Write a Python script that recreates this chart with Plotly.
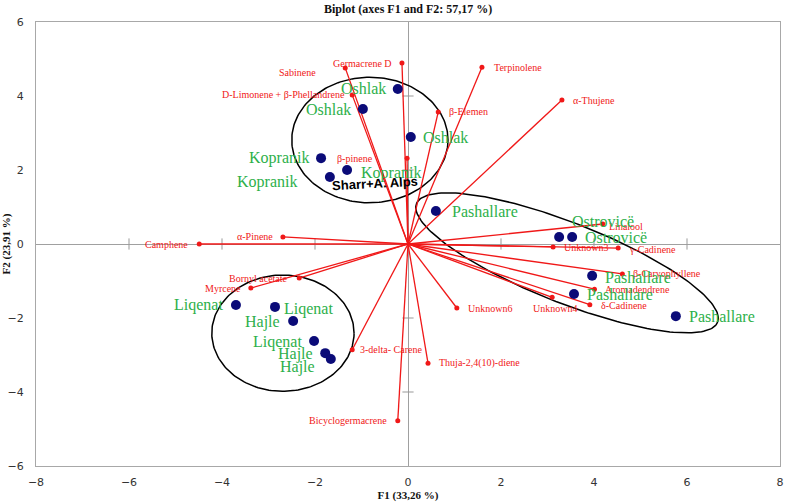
import numpy as np
import plotly.graph_objects as go

# ---------------- data ----------------
obs_names = ["Oshlak", "Oshlak", "Oshlak", "Kopranik", "Kopranik", "Kopranik",
             "Pashallare", "Ostrovicë", "Ostrovicë", "Pashallare", "Pashallare", "Pashallare",
             "Liqenat", "Liqenat", "Hajle", "Liqenat", "Hajle", "Hajle"]
obs_f1 = [-0.22, -0.97, 0.06, -1.87, -1.31, -1.68,
          0.60, 3.25, 3.53, 3.96, 3.57, 5.76,
          -3.70, -2.86, -2.47, -2.02, -1.78, -1.66]
obs_f2 = [4.19, 3.65, 2.89, 2.32, 2.00, 1.81,
          0.89, 0.19, 0.19, -0.86, -1.35, -1.95,
          -1.65, -1.70, -2.08, -2.62, -2.95, -3.11]

var_names = ["Germacrene D", "Sabinene", "D-Limonene + β-Phellandrene", "β-pinene",
             "β-Elemen", "Terpinolene", "α-Thujene", "Camphene", "α-Pinene",
             "Bornyl acetate", "Myrcene", "3-delta- Carene", "Bicyclogermacrene",
             "Thuja-2,4(10)-diene", "Unknown6", "Linalool", "Unknown3", "γ-Cadinene",
             "β-Caryophyllene", "Aromadendrene", "δ-Cadinene", "Unknown4"]
var_f1 = [-0.13, -1.35, -1.20, -0.02, 0.65, 1.59, 3.31, -4.49, -2.69,
          -2.34, -3.38, -1.20, -0.22, 0.43, 1.05, 4.19, 3.12, 4.52,
          4.61, 4.01, 3.91, 3.10]
var_f2 = [4.89, 4.76, 4.03, 2.32, 3.57, 4.78, 3.89, 0.00, 0.19,
          -0.92, -1.19, -2.86, -4.78, -3.22, -1.73, 0.54, -0.08, -0.11,
          -0.81, -1.22, -1.64, -1.44]

# group ellipses: centre F1, centre F2, semi-axes (F1 units), angle (deg, on screen)
ell_cx = [-0.82, -2.69, 3.42]
ell_cy = [2.81, -2.41, -0.51]
ell_a = [1.68, 1.53, 3.48]
ell_b = [1.35, 1.25, 0.86]
ell_ang = [0, 0, -21.5]

group_label = "Sharr+A. Alps"
axis_ticks = [-6, -4, -2, 2, 4, 6]
y_axis_ticks = [-4, -2, 2, 4]

# ---------------- styles ----------------
# label placement: (side, xshift, yshift)
obs_place = [("r", -10, 0), ("r", -10, -1), ("l", 10, 0), ("r", -10, 0), ("l", 12, -3), ("r", -31, -5),
             ("l", 14, 0), ("l", 11, 15), ("l", 11, -1), ("l", 11, -2), ("l", 11, -1), ("l", 11, 0),
             ("r", -11, 0), ("l", 7, -2), ("r", -11, -1), ("r", -10, -1), ("r", -10, -1), ("r", -14, -8)]
var_place = [("r", -8, 0), ("r", -27, -5), ("r", -5, 0), ("r", -32, 0), ("l", 9, 0), ("l", 10, 0),
             ("l", 9, 0), ("r", -9, 0), ("r", -8, 0), ("r", -9, 0), ("r", -8, 0), ("l", 6, 0),
             ("r", -9, 0), ("l", 9, 0), ("l", 9, 0), ("l", 4, -2), ("l", 9, -1), ("l", 9, -1),
             ("l", 9, 0), ("l", 9, 0), ("l", 9, -1), ("c", 3, -11)]

RED = "#F01818"
GREEN = "#2DB04A"
NAVY = "#0B0B78"
SERIF = "Liberation Serif, Times New Roman, serif"

fig = go.Figure()

# ellipses
k = 37.0 / 46.5  # screen aspect (px per F2 unit / px per F1 unit)
t = np.linspace(0, 2 * np.pi, 200)
for cx, cy, a, b, ang in zip(ell_cx, ell_cy, ell_a, ell_b, ell_ang):
    th = np.deg2rad(ang)
    u = a * np.cos(t) * np.cos(th) - b * np.sin(t) * np.sin(th)
    v = a * np.cos(t) * np.sin(th) + b * np.sin(t) * np.cos(th)
    fig.add_trace(go.Scatter(x=cx + u, y=cy + v / k, mode="lines",
                             line=dict(color="black", width=1.5),
                             hoverinfo="skip", showlegend=False))

# zero-line tick marks
fig.add_trace(go.Scatter(x=axis_ticks, y=[0] * len(axis_ticks), mode="markers",
                         marker=dict(symbol="line-ns", size=8, line=dict(color="#999999", width=1)),
                         hoverinfo="skip", showlegend=False))
fig.add_trace(go.Scatter(x=[0] * len(y_axis_ticks), y=y_axis_ticks, mode="markers",
                         marker=dict(symbol="line-ew", size=8, line=dict(color="#999999", width=1)),
                         hoverinfo="skip", showlegend=False))

# variable vectors
vx, vy = [], []
for x, y in zip(var_f1, var_f2):
    vx += [0, x, None]
    vy += [0, y, None]
fig.add_trace(go.Scatter(x=vx, y=vy, mode="lines", line=dict(color=RED, width=1.3),
                         hoverinfo="skip", showlegend=False))
fig.add_trace(go.Scatter(x=var_f1, y=var_f2, mode="markers",
                         marker=dict(color=RED, size=5), text=var_names,
                         hoverinfo="text", showlegend=False))

# observations
fig.add_trace(go.Scatter(x=obs_f1, y=obs_f2, mode="markers",
                         marker=dict(color=NAVY, size=10), text=obs_names,
                         hoverinfo="text", showlegend=False))

anchor = {"l": "left", "r": "right", "c": "center"}
for name, x, y, (side, xs, ys) in zip(var_names, var_f1, var_f2, var_place):
    fig.add_annotation(x=x, y=y, text=name, showarrow=False, xanchor=anchor[side],
                       yanchor="middle", xshift=xs, yshift=ys,
                       font=dict(family=SERIF, size=10, color=RED))
for name, x, y, (side, xs, ys) in zip(obs_names, obs_f1, obs_f2, obs_place):
    fig.add_annotation(x=x, y=y, text=name, showarrow=False, xanchor=anchor[side],
                       yanchor="middle", xshift=xs, yshift=ys,
                       font=dict(family=SERIF, size=16, color=GREEN))

fig.add_annotation(x=ell_cx[0], y=ell_cy[0], text="<b>" + group_label + "</b>", showarrow=False,
                   xanchor="center", yanchor="middle", xshift=5, yshift=-43, textangle=-3,
                   font=dict(family="Liberation Sans, Arial, sans-serif", size=13, color="black"))

fig.update_layout(
    width=785, height=503,
    margin=dict(l=36, r=5, t=22, b=37),
    paper_bgcolor="white", plot_bgcolor="white",
    title=dict(text="<b>Biplot (axes F1 and F2: 57,17 %)</b>", x=0.52, xanchor="center",
               y=0.982, yanchor="middle",
               font=dict(family=SERIF, size=12, color="#111111")),
    xaxis=dict(range=[-8, 8], dtick=2, tick0=-8, showgrid=False, automargin=False,
               zeroline=True, zerolinecolor="#a0a0a0", zerolinewidth=1,
               showline=True, linecolor="#a8a8a8", linewidth=1, mirror=True,
               ticks="", ticklabelstandoff=6, ticklabeloverflow="allow",
               tickfont=dict(family="DejaVu Sans, Verdana, sans-serif", size=11, color="#333333"),
               title=dict(text="<b>F1 (33,26 %)</b>", standoff=2,
                          font=dict(family=SERIF, size=11, color="#111111"))),
    yaxis=dict(range=[-6, 6], dtick=2, tick0=-6, showgrid=False, automargin=False,
               zeroline=True, zerolinecolor="#a0a0a0", zerolinewidth=1,
               showline=True, linecolor="#a8a8a8", linewidth=1, mirror=True,
               ticks="", ticklabelstandoff=9, ticklabeloverflow="allow",
               tickfont=dict(family="DejaVu Sans, Verdana, sans-serif", size=11, color="#333333"),
               title=dict(text="<b>F2 (23,91 %)</b>", standoff=0,
                          font=dict(family=SERIF, size=11, color="#111111"))),
)

fig.write_html("out.html", config={"displayModeBar": False},
               post_script="document.body.style.margin='0';document.body.style.overflow='hidden';")
